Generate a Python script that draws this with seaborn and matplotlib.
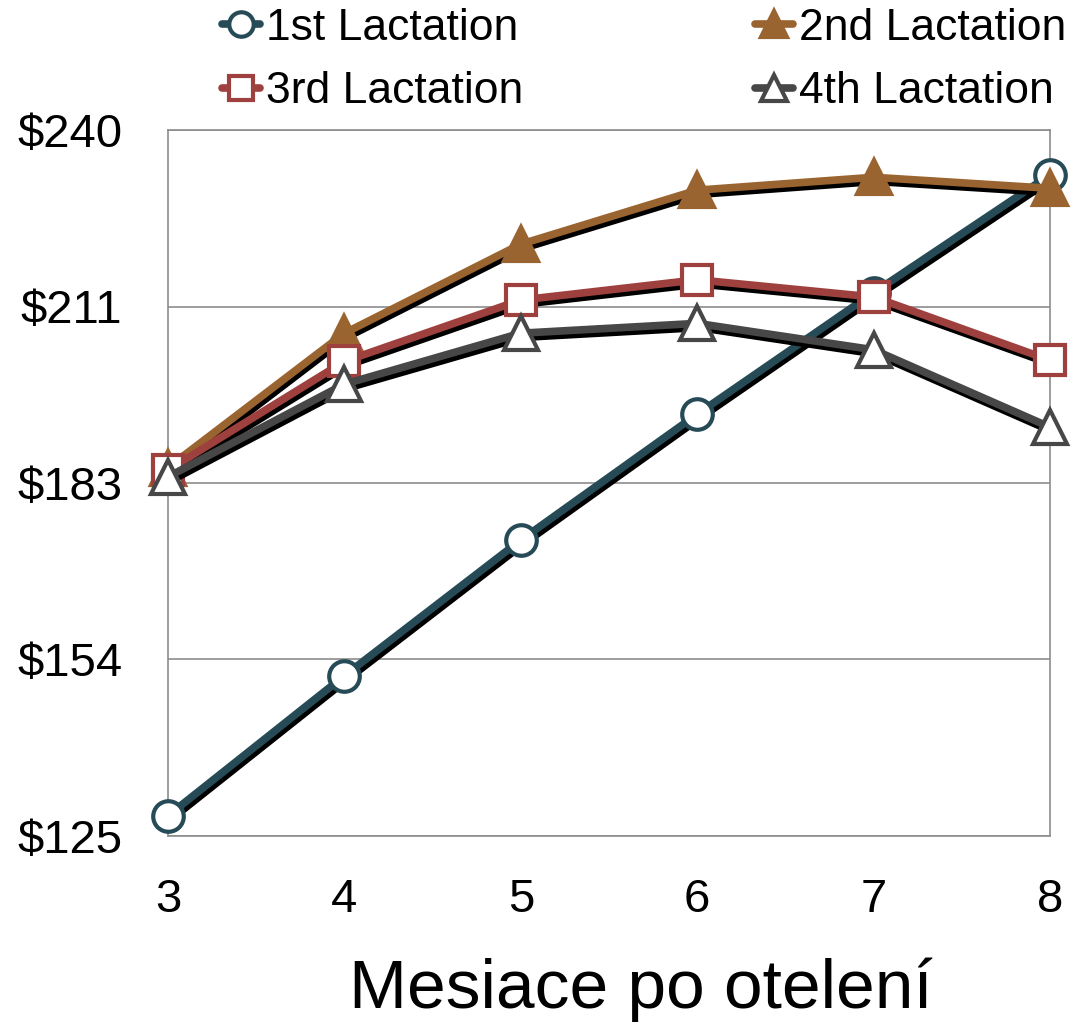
import seaborn as sns
import matplotlib.pyplot as plt
import matplotlib.patheffects as pe
from matplotlib.lines import Line2D
import pandas as pd

# months after calving
months = [3, 4, 5, 6, 7, 8]
# income values
lact1 = [128.3, 151.1, 173.2, 193.7, 213.5, 232.7]
lact2 = [185.0, 206.9, 221.4, 230.2, 232.3, 230.5]
lact3 = [184.6, 202.3, 212.3, 215.6, 212.8, 202.5]
lact4 = [183.5, 198.6, 206.9, 208.5, 204.2, 191.6]
series = ['1st Lactation', '2nd Lactation', '3rd Lactation', '4th Lactation']
ytick_vals = [125, 153.75, 182.5, 211.25, 240]
ytick_labels = ['$125', '$154', '$183', '$211', '$240']

df = pd.DataFrame({
    'month': months * 4,
    'value': lact1 + lact2 + lact3 + lact4,
    'series': [s for s in series for _ in months],
})

sns.set_style('white')
plt.rcParams['font.family'] = ['Liberation Sans', 'DejaVu Sans']

colors = ['#264B57', '#9A6430', '#9E413E', '#474747']
styles = [
    dict(marker='o', mfc='white', ms=22),
    dict(marker='^', mfc='#9A6430', ms=24),
    dict(marker='s', mfc='white', ms=21),
    dict(marker='^', mfc='white', ms=24),
]

fig = plt.figure(figsize=(10.79, 10.33), dpi=100)
ax = fig.add_axes([168 / 1079, 1 - 836 / 1033, (1050 - 168) / 1079, (836 - 130) / 1033])

shadow = [pe.SimpleLineShadow(offset=(1.5, -3.0), shadow_color='black', alpha=1.0),
          pe.Normal()]

for i, s in enumerate(series):
    sub = df[df['series'] == s]
    # line with black shadow
    sns.lineplot(data=sub, x='month', y='value', ax=ax, color=colors[i], linewidth=5.5,
                 zorder=3 + 2 * i, clip_on=False, legend=False)
    ax.get_lines()[-1].set_path_effects(shadow)
    # markers on top, no shadow
    sns.lineplot(data=sub, x='month', y='value', ax=ax, color=colors[i], linestyle='none',
                 marker=styles[i]['marker'], markersize=styles[i]['ms'],
                 markerfacecolor=styles[i]['mfc'], markeredgecolor=colors[i],
                 markeredgewidth=3, zorder=4 + 2 * i, clip_on=False, legend=False)

ax.set_xlim(3, 8)
ax.set_ylim(125, 240)
ax.set_xticks(months)
ax.set_xticklabels([str(m) for m in months], fontsize=34, color='black')
ax.set_yticks(ytick_vals)
ax.set_yticklabels(ytick_labels, fontsize=34, color='black')
ax.tick_params(axis='y', length=0, pad=33)
ax.tick_params(axis='x', length=0, pad=30)
ax.yaxis.grid(True, color='#8c8c8c', linewidth=1.2)
ax.xaxis.grid(False)
for sp in ax.spines.values():
    sp.set_color('#8c8c8c')
    sp.set_linewidth(1.2)
ax.set_xlabel('Mesiace po otelení', fontsize=50, color='black')
ax.xaxis.set_label_coords(0.536, -0.172)
ax.set_ylabel('')

handles = [Line2D([], [], color=colors[i], linewidth=5.5, marker=styles[i]['marker'],
                  markersize=styles[i]['ms'] * 0.8, markerfacecolor=styles[i]['mfc'],
                  markeredgecolor=colors[i], markeredgewidth=3) for i in range(4)]
order = [0, 2, 1, 3]
leg = fig.legend([handles[i] for i in order], [series[i] for i in order], ncol=2,
                 loc='upper left', bbox_to_anchor=(182 / 1079, 1 + 32 / 1033),
                 frameon=False, fontsize=32, handlelength=0.85, handletextpad=0.15,
                 columnspacing=5.2, labelspacing=0.5)
for t in leg.get_texts():
    t.set_color('black')

fig.savefig('out.png', dpi=100)
